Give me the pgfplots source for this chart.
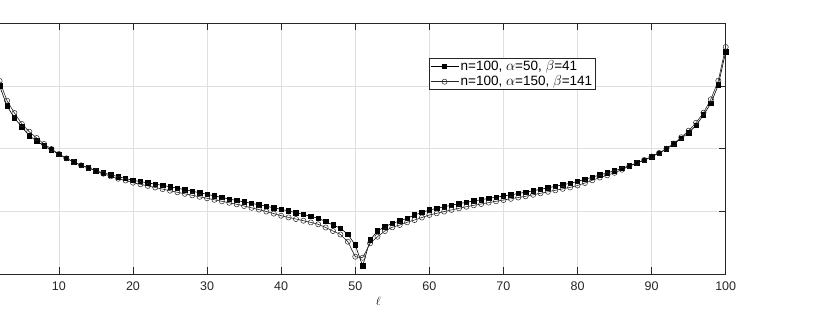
\documentclass[border=0pt]{standalone}
\usepackage{pgfplots}
\pgfplotsset{compat=1.18}
\usepackage{pgfplotstable}
\usepackage{fontspec}
\setmainfont{Liberation Sans}
\definecolor{axgray}{RGB}{38,38,38}
\definecolor{gridgray}{RGB}{223,223,223}

\pgfplotstableread{
l sq ci
1 222 229
2 188 193
3 168 173.3
4 156 161
5 147 150
6 138.3 142.3
7 133 136
8 128 130
9 124 125
10 119.7 120
11 115.7 115.7
12 112 112
13 108.7 108.7
14 106.3 106
15 103.3 103
16 101 100.3
17 99.3 97.7
18 97.3 95.3
19 95.5 93.5
20 93.7 91.3
21 92.4 89.7
22 91.1 88.1
23 89.9 86.5
24 88.6 84.9
25 87.3 83.3
26 85.8 81.7
27 84.3 80.2
28 82.8 78.7
29 81.2 77.2
30 79.7 75.7
31 78.1 74.2
32 76.5 72.7
33 74.9 71.2
34 73.5 69.7
35 72.1 68
36 70.6 66.2
37 69.2 64.4
38 67.7 62.5
39 66.2 60.4
40 64.7 58.3
41 63 56.6
42 61.3 55
43 59.5 53.3
44 57.7 51.6
45 55.7 49.7
46 52.5 46.5
47 49 43
48 45.7 39.5
49 39.7 32.3
50 29 17.3
51 8 16.3
52 34 30.7
53 43 37.3
54 47.3 43
55 50.7 46.7
56 53 49
57 55.7 51.7
58 59 54
59 61.5 56.5
60 64 59
61 65.6 60.7
62 67.2 62.4
63 68.8 64.1
64 70.3 65.7
65 71.7 67.3
66 73 68.7
67 74.3 70
68 75.6 71.4
69 76.8 72.7
70 78 74
71 79.2 75.2
72 80.5 76.5
73 81.8 77.7
74 83.2 79.2
75 84.7 80.7
76 86.2 82.2
77 87.7 83.7
78 89.2 85.2
79 90.7 86.6
80 92.5 88.5
81 94.7 91
82 96.8 93.7
83 99 96.5
84 101.1 98.7
85 103.3 101.2
86 105.6 104.3
87 108.3 108
88 111 111
89 113.7 114
90 117.3 117.5
91 120.7 121
92 125 125.3
93 130 130.5
94 135.7 136.7
95 141.3 143.3
96 148.7 151.3
97 159 161.3
98 170.7 174.7
99 189 193.3
100 222.3 227
}\datatable

\begin{document}
\begin{tikzpicture}
\begin{axis}[
  name=ax,
  scale only axis,
  width=740.9pt, height=250.7pt,
  xmin=0, xmax=100, ymin=0, ymax=250.7,
  xtick={0,10,...,100},
  xticklabels={,10,20,30,40,50,60,70,80,90,100},
  ytick={0,62.675,125.35,188.025,250.7},
  yticklabels={},
  grid=major,
  major grid style={gridgray, line width=0.5pt},
  axis line style={axgray, line width=0.6pt},
  tick style={axgray, line width=0.6pt},
  major tick length=7pt,
  tick align=inside,
  tick pos=both,
  /pgf/number format/assume math mode=true,
  ticklabel style={font=\fontsize{12.5}{14}\selectfont, text=axgray},
  xticklabel style={yshift=-4.5pt},
  xlabel={$\ell$},
  xlabel style={at={(axis description cs:0.531,0)}, anchor=center, yshift=-27pt, font=\fontsize{13}{14}\selectfont},
  legend cell align=left,
  legend style={at={(axis description cs:0.5996,0.8604)}, anchor=north west,
    draw=axgray, line width=0.5pt, fill=white,
    font=\fontsize{13.5}{15}\selectfont,
    inner xsep=1pt, inner ysep=0.5pt, row sep=0pt,
    nodes={inner sep=1.8pt}},
  legend image code/.code={\draw[mark repeat=2,mark phase=2] plot coordinates {(0pt,0pt) (14pt,0pt) (28pt,0pt)};},
]
\addplot[black, line width=0.6pt, mark=square*, mark size=2.2pt, mark options={solid, fill=black}] table[x=l, y=sq] {\datatable};
\addlegendentry{n=100, $\alpha$=50, $\beta$=41}
\addplot[black!85, line width=0.6pt, mark=o, mark size=2.6pt, mark options={solid, line width=0.5pt}] table[x=l, y=ci] {\datatable};
\addlegendentry{n=100, $\alpha$=150, $\beta$=141}
\end{axis}
\pgfresetboundingbox
\path[use as bounding box] (15.2pt,-39pt) rectangle (832.2pt,274pt);
\end{tikzpicture}
\end{document}
